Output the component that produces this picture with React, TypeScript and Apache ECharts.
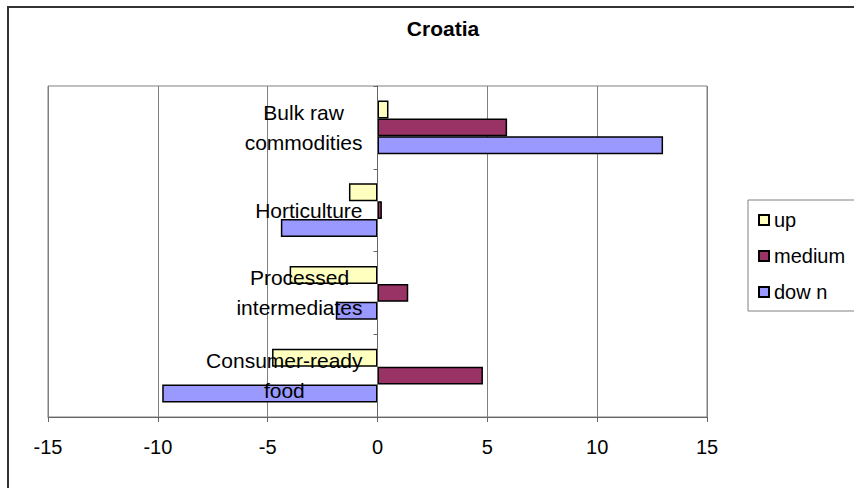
import React, { useEffect, useRef } from "react";
import * as echarts from "echarts";

const categories = [
  "Bulk raw\ncommodities",
  "Horticulture",
  "Processed\nintermediates",
  "Consumer-ready\nfood",
];
const seriesNames = ["up", "medium", "dow n"];
const upValues = [0.5, -1.3, -4.0, -4.8];
const mediumValues = [5.9, 0.2, 1.4, 4.8];
const downValues = [13.0, -4.4, -1.9, -9.8];
const xTicks = { min: -15, max: 15, interval: 5 };
const colors = ["#FFFFC0", "#993366", "#9999FF"];

const FONT = "Arial, 'Liberation Sans', sans-serif";

export default function App() {
  const ref = useRef<HTMLDivElement>(null);
  useEffect(() => {
    if (!ref.current) return;
    const chart = echarts.init(ref.current, undefined, { renderer: "svg" });
    const values = [upValues, mediumValues, downValues];
    const gridLeft = 48;
    const gridRight = 147;
    const plotWidth = 854 - gridLeft - gridRight;
    const zeroOffset = (plotWidth * (0 - xTicks.min)) / (xTicks.max - xTicks.min);
    chart.setOption({
      animation: false,
      backgroundColor: "#ffffff",
      title: {
        text: "Croatia",
        left: 438,
        top: 13,
        textAlign: "center",
        textStyle: { fontFamily: FONT, fontWeight: "bold", fontSize: 21, color: "#000" },
      },
      legend: {
        orient: "vertical",
        left: 748,
        top: 200,
        data: seriesNames,
        icon: "rect",
        itemWidth: 10,
        itemHeight: 10,
        itemGap: 16,
        padding: [10, 30, 9, 10],
        borderColor: "#808080",
        borderWidth: 1,
        textStyle: { fontFamily: FONT, fontSize: 20, color: "#000" },
      },
      grid: {
        left: gridLeft,
        right: gridRight,
        top: 86,
        bottom: 71,
        show: true,
        borderColor: "#808080",
        borderWidth: 1,
        containLabel: false,
        outerBoundsMode: "none",
      },
      xAxis: {
        type: "value",
        min: xTicks.min,
        max: xTicks.max,
        interval: xTicks.interval,
        axisLine: { show: true, onZero: false, lineStyle: { color: "#666" } },
        axisTick: { show: true, length: 5, lineStyle: { color: "#666" } },
        axisLabel: { fontFamily: FONT, fontSize: 20, color: "#000", margin: 20 },
        splitLine: { show: true, lineStyle: { color: "#808080", width: 1 } },
      },
      yAxis: {
        type: "category",
        inverse: true,
        data: categories,
        offset: -zeroOffset,
        z: 10,
        axisLine: { show: true, onZero: false, lineStyle: { color: "#666" } },
        axisTick: { show: true, length: 4, lineStyle: { color: "#666" } },
        axisLabel: {
          fontFamily: FONT,
          fontSize: 21,
          color: "#000",
          margin: 15,
          formatter: (v: string) => v.split("\n").map((l) => `{c|${l}}`).join("\n"),
          rich: { c: { align: "center", fontFamily: FONT, fontSize: 21, color: "#000", lineHeight: 30 } },
        },
        splitLine: { show: false },
      },
      series: seriesNames.map((name, i) => ({
        name,
        type: "bar",
        data: values[i],
        barGap: "0%",
        barCategoryGap: "35%",
        itemStyle: { color: colors[i], borderColor: "#000", borderWidth: 1.5 },
      })),
    });
    return () => chart.dispose();
  }, []);
  return (
    <div style={{ position: "fixed", left: 0, top: 0, width: 854, height: 488, background: "#fff", overflow: "hidden" }}>
      <div ref={ref} style={{ width: 854, height: 488 }} />
      <div
        style={{
          position: "absolute",
          left: 7,
          top: 6,
          width: 860,
          height: 600,
          border: "2px solid #333",
          pointerEvents: "none",
        }}
      />
    </div>
  );
}
